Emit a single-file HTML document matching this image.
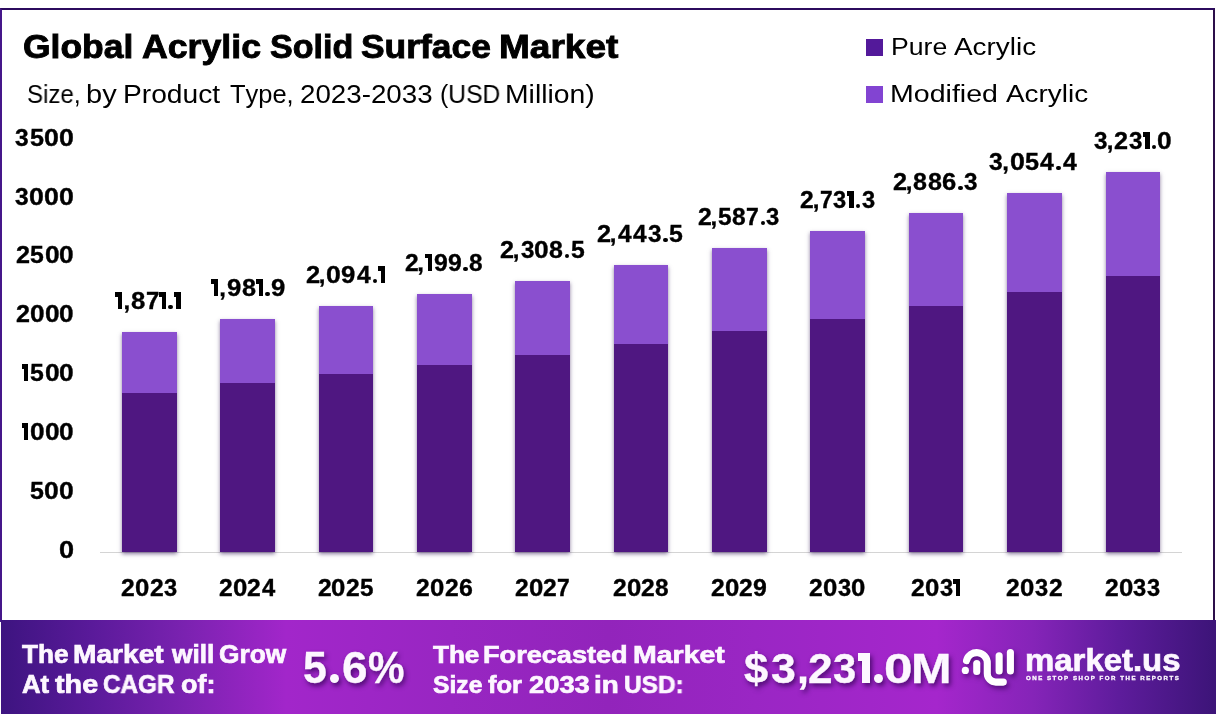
<!DOCTYPE html>
<html><head><meta charset="utf-8">
<style>
html,body{margin:0;padding:0;}
body{width:1216px;height:725px;position:relative;overflow:hidden;background:#fff;font-family:"Liberation Sans",sans-serif;}
.t{position:absolute;white-space:nowrap;line-height:1;transform-origin:0 0;will-change:transform;font-kerning:none;font-variant-ligatures:none;}
.sq{position:absolute;width:17px;height:17px;}
.bar{position:absolute;width:54.2px;box-shadow:0 2px 4px rgba(45,20,80,0.55);}
.mod{position:absolute;left:0;top:0;width:100%;background:#8a4fcf;}
.pure{position:absolute;left:0;width:100%;background:#4f1781;}
.frame{position:absolute;left:0;top:8px;width:1215px;height:614px;box-sizing:border-box;border:2px solid #2c0b5e;border-left-color:#45178a;border-right-color:#2c0e4a;border-bottom:none;}
.axis{position:absolute;left:100px;top:552px;width:1082px;height:1px;background:#d4d4d4;}
.banner{position:absolute;left:1px;top:620px;width:1215px;height:94px;background:linear-gradient(90deg,#3d1480 0%,#5a1a9a 7.5%,#7a22b0 15%,#a226ca 23.5%,#9826c2 37%,#9224bb 50%,#9a26c4 62%,#a526cc 77%,#8524b8 85%,#5e1c9c 92%,#3c1478 100%);}
.b{-webkit-text-stroke:0.35px currentColor;}
.sh{text-shadow:2px 3px 5px rgba(45,0,80,0.75);}
</style></head><body>
<div class="frame"></div>
<div class="axis"></div>
<div class="bar" style="left:122.00px;width:54.80px;top:331.90px;height:220.40px"><div class="mod" style="height:61.10px"></div><div class="pure" style="top:61.10px;bottom:0"></div></div>
<div class="bar" style="left:219.85px;width:55.25px;top:319.20px;height:233.10px"><div class="mod" style="height:63.40px"></div><div class="pure" style="top:63.40px;bottom:0"></div></div>
<div class="bar" style="left:319.10px;width:53.80px;top:305.80px;height:246.50px"><div class="mod" style="height:68.20px"></div><div class="pure" style="top:68.20px;bottom:0"></div></div>
<div class="bar" style="left:416.90px;width:55.30px;top:294.10px;height:258.20px"><div class="mod" style="height:70.70px"></div><div class="pure" style="top:70.70px;bottom:0"></div></div>
<div class="bar" style="left:515.10px;width:54.90px;top:281.00px;height:271.30px"><div class="mod" style="height:73.80px"></div><div class="pure" style="top:73.80px;bottom:0"></div></div>
<div class="bar" style="left:613.80px;width:54.50px;top:265.10px;height:287.20px"><div class="mod" style="height:78.70px"></div><div class="pure" style="top:78.70px;bottom:0"></div></div>
<div class="bar" style="left:711.90px;width:54.90px;top:248.00px;height:304.30px"><div class="mod" style="height:82.90px"></div><div class="pure" style="top:82.90px;bottom:0"></div></div>
<div class="bar" style="left:809.70px;width:55.30px;top:230.90px;height:321.40px"><div class="mod" style="height:88.00px"></div><div class="pure" style="top:88.00px;bottom:0"></div></div>
<div class="bar" style="left:909.10px;width:53.80px;top:212.90px;height:339.40px"><div class="mod" style="height:92.80px"></div><div class="pure" style="top:92.80px;bottom:0"></div></div>
<div class="bar" style="left:1007.00px;width:54.90px;top:193.10px;height:359.20px"><div class="mod" style="height:98.60px"></div><div class="pure" style="top:98.60px;bottom:0"></div></div>
<div class="bar" style="left:1106.00px;width:53.90px;top:172.10px;height:380.20px"><div class="mod" style="height:103.70px"></div><div class="pure" style="top:103.70px;bottom:0"></div></div>
<div class="banner"></div>
<svg style="position:absolute;left:955px;top:640px;filter:drop-shadow(2px 3px 2.5px rgba(45,0,80,0.6))" width="65" height="50" viewBox="0 0 65 50">
<g fill="none" stroke="#fff" stroke-linecap="round" stroke-width="7.1">
<path d="M11.51 20.6 A10.55 10.55 0 0 1 32.3 23.15 L32.3 33.6 A8.5 8.5 0 0 0 40.8 42.1 L48.3 42.1"/>
<path d="M21.75 23.45 L21.75 31.4"/>
<path d="M44.15 15.85 L44.15 31.05"/>
<path d="M55.4 12.6 L55.4 31"/>
</g>
<circle cx="10.35" cy="30.4" r="3.6" fill="#fff"/>
</svg>
<div id="title0" class="t  b" style="left:22.75px;top:30.11px;font-size:33.00px;font-weight:700;color:#000;transform:scaleX(1.0739);-webkit-text-stroke:0.9px #000;">Global</div>
<div id="title1" class="t  b" style="left:142.11px;top:30.11px;font-size:33.00px;font-weight:700;color:#000;transform:scaleX(1.0814);-webkit-text-stroke:0.9px #000;">Acrylic</div>
<div id="title2" class="t  b" style="left:270.02px;top:30.11px;font-size:33.00px;font-weight:700;color:#000;transform:scaleX(1.0318);-webkit-text-stroke:0.9px #000;">Solid</div>
<div id="title3" class="t  b" style="left:360.88px;top:30.11px;font-size:33.00px;font-weight:700;color:#000;transform:scaleX(1.0724);-webkit-text-stroke:0.9px #000;">Surface</div>
<div id="title4" class="t  b" style="left:498.52px;top:30.11px;font-size:33.00px;font-weight:700;color:#000;transform:scaleX(1.1217);-webkit-text-stroke:0.9px #000;">Market</div>
<div id="sub0" class="t " style="left:27.11px;top:81.61px;font-size:25.00px;font-weight:400;color:#000;transform:scaleX(0.9617);">Size,</div>
<div id="sub1" class="t " style="left:86.43px;top:81.61px;font-size:25.00px;font-weight:400;color:#000;transform:scaleX(1.1599);">by</div>
<div id="sub2" class="t " style="left:122.99px;top:81.61px;font-size:25.00px;font-weight:400;color:#000;transform:scaleX(1.1272);">Product</div>
<div id="sub3" class="t " style="left:230.03px;top:81.61px;font-size:25.00px;font-weight:400;color:#000;transform:scaleX(1.0181);">Type,</div>
<div id="sub4" class="t " style="left:299.91px;top:81.61px;font-size:25.00px;font-weight:400;color:#000;transform:scaleX(1.1088);">2023-2033</div>
<div id="sub5" class="t " style="left:439.57px;top:81.61px;font-size:25.00px;font-weight:400;color:#000;transform:scaleX(0.9869);">(USD</div>
<div id="sub6" class="t " style="left:505.38px;top:81.61px;font-size:25.00px;font-weight:400;color:#000;transform:scaleX(1.1327);">Million)</div>
<div class="sq" style="left:866px;top:39px;background:#53199a"></div>
<div class="sq" style="left:866px;top:86px;background:#8244d2"></div>
<div id="leg1_0" class="t " style="left:890.51px;top:34.76px;font-size:24.60px;font-weight:400;color:#000;transform:scaleX(1.0829);">Pure</div>
<div id="leg1_1" class="t " style="left:954.15px;top:34.76px;font-size:24.60px;font-weight:400;color:#000;transform:scaleX(1.1334);">Acrylic</div>
<div id="leg2_0" class="t " style="left:890.36px;top:81.76px;font-size:24.60px;font-weight:400;color:#000;transform:scaleX(1.1613);">Modified</div>
<div id="leg2_1" class="t " style="left:1005.95px;top:81.76px;font-size:24.60px;font-weight:400;color:#000;transform:scaleX(1.1334);">Acrylic</div>
<div id="y3500" class="t b " style="left:0;top:125.60px;font-size:24.00px;font-weight:700;color:#000;width:1px;height:24.00px;"><span style="position:absolute;left:15.44px;top:0;transform:scaleX(1.0239);transform-origin:0 0">3</span><span style="position:absolute;left:29.68px;top:0;transform:scaleX(1.0485);transform-origin:0 0">5</span><span style="position:absolute;left:44.16px;top:0;transform:scaleX(1.1147);transform-origin:0 0">0</span><span style="position:absolute;left:59.12px;top:0;transform:scaleX(1.1147);transform-origin:0 0">0</span></div>
<div id="y3000" class="t b " style="left:0;top:184.51px;font-size:24.00px;font-weight:700;color:#000;width:1px;height:24.00px;"><span style="position:absolute;left:15.24px;top:0;transform:scaleX(1.0238);transform-origin:0 0">3</span><span style="position:absolute;left:29.20px;top:0;transform:scaleX(1.1147);transform-origin:0 0">0</span><span style="position:absolute;left:44.16px;top:0;transform:scaleX(1.1147);transform-origin:0 0">0</span><span style="position:absolute;left:59.12px;top:0;transform:scaleX(1.1147);transform-origin:0 0">0</span></div>
<div id="y2500" class="t b " style="left:0;top:243.40px;font-size:24.00px;font-weight:700;color:#000;width:1px;height:24.00px;"><span style="position:absolute;left:15.93px;top:0;transform:scaleX(1.0491);transform-origin:0 0">2</span><span style="position:absolute;left:30.36px;top:0;transform:scaleX(1.0319);transform-origin:0 0">5</span><span style="position:absolute;left:44.61px;top:0;transform:scaleX(1.0971);transform-origin:0 0">0</span><span style="position:absolute;left:59.34px;top:0;transform:scaleX(1.0971);transform-origin:0 0">0</span></div>
<div id="y2000" class="t b " style="left:0;top:302.31px;font-size:24.00px;font-weight:700;color:#000;width:1px;height:24.00px;"><span style="position:absolute;left:15.93px;top:0;transform:scaleX(1.0453);transform-origin:0 0">2</span><span style="position:absolute;left:30.04px;top:0;transform:scaleX(1.0932);transform-origin:0 0">0</span><span style="position:absolute;left:44.71px;top:0;transform:scaleX(1.0932);transform-origin:0 0">0</span><span style="position:absolute;left:59.38px;top:0;transform:scaleX(1.0932);transform-origin:0 0">0</span></div>
<div id="y1500" class="t b " style="left:0;top:361.20px;font-size:24.00px;font-weight:700;color:#000;width:1px;height:24.00px;"><span style="position:absolute;left:21.55px;top:3.33px;width:6.62px;height:16.66px;"><i style="position:absolute;left:0;top:0;width:2.88px;height:4.18px;background:#000"></i><i style="position:absolute;right:0;top:0;width:4.24px;height:100%;background:#000"></i></span><span style="position:absolute;left:30.27px;top:0;transform:scaleX(1.0341);transform-origin:0 0">5</span><span style="position:absolute;left:44.55px;top:0;transform:scaleX(1.0994);transform-origin:0 0">0</span><span style="position:absolute;left:59.31px;top:0;transform:scaleX(1.0994);transform-origin:0 0">0</span></div>
<div id="y1000" class="t b " style="left:0;top:420.10px;font-size:24.00px;font-weight:700;color:#000;width:1px;height:24.00px;"><span style="position:absolute;left:21.55px;top:3.34px;width:6.60px;height:16.66px;"><i style="position:absolute;left:0;top:0;width:2.88px;height:4.18px;background:#000"></i><i style="position:absolute;right:0;top:0;width:4.22px;height:100%;background:#000"></i></span><span style="position:absolute;left:29.96px;top:0;transform:scaleX(1.0951);transform-origin:0 0">0</span><span style="position:absolute;left:44.66px;top:0;transform:scaleX(1.0951);transform-origin:0 0">0</span><span style="position:absolute;left:59.36px;top:0;transform:scaleX(1.0951);transform-origin:0 0">0</span></div>
<div id="y500" class="t b " style="left:0;top:479.01px;font-size:24.00px;font-weight:700;color:#000;width:1px;height:24.00px;"><span style="position:absolute;left:30.03px;top:0;transform:scaleX(1.0399);transform-origin:0 0">5</span><span style="position:absolute;left:44.39px;top:0;transform:scaleX(1.1056);transform-origin:0 0">0</span><span style="position:absolute;left:59.23px;top:0;transform:scaleX(1.1056);transform-origin:0 0">0</span></div>
<div id="y0" class="t b " style="left:0;top:537.90px;font-size:24.00px;font-weight:700;color:#000;width:1px;height:24.00px;"><span style="position:absolute;left:58.93px;top:0;transform:scaleX(1.1302);transform-origin:0 0">0</span></div>
<div id="v0" class="t b " style="left:0;top:288.61px;font-size:24.00px;font-weight:700;color:#000;width:1px;height:24.00px;"><span style="position:absolute;left:115.45px;top:3.33px;width:6.81px;height:16.66px;"><i style="position:absolute;left:0;top:0;width:2.95px;height:4.18px;background:#000"></i><i style="position:absolute;right:0;top:0;width:4.36px;height:100%;background:#000"></i></span><span style="position:absolute;left:123.51px;top:0;transform:scaleX(1.0000);transform-origin:0 0">,</span><span style="position:absolute;left:131.30px;top:0;transform:scaleX(1.0720);transform-origin:0 0">8</span><span style="position:absolute;left:146.06px;top:0;transform:scaleX(0.9994);transform-origin:0 0">7</span><span style="position:absolute;left:159.23px;top:3.33px;width:6.81px;height:16.66px;"><i style="position:absolute;left:0;top:0;width:2.95px;height:4.18px;background:#000"></i><i style="position:absolute;right:0;top:0;width:4.36px;height:100%;background:#000"></i></span><span style="position:absolute;left:168.32px;top:15.50px;width:4.64px;height:4.64px;border-radius:50%;background:#000;"></span><span style="position:absolute;left:173.94px;top:3.33px;width:6.81px;height:16.66px;"><i style="position:absolute;left:0;top:0;width:2.95px;height:4.18px;background:#000"></i><i style="position:absolute;right:0;top:0;width:4.36px;height:100%;background:#000"></i></span></div>
<div id="x0" class="t b " style="left:0;top:575.70px;font-size:24.00px;font-weight:700;color:#000;width:1px;height:24.00px;"><span style="position:absolute;left:121.15px;top:0;transform:scaleX(1.0263);transform-origin:0 0">2</span><span style="position:absolute;left:135.00px;top:0;transform:scaleX(1.0733);transform-origin:0 0">0</span><span style="position:absolute;left:149.57px;top:0;transform:scaleX(1.0263);transform-origin:0 0">2</span><span style="position:absolute;left:163.90px;top:0;transform:scaleX(0.9858);transform-origin:0 0">3</span></div>
<div id="v1" class="t b " style="left:0;top:275.90px;font-size:24.00px;font-weight:700;color:#000;width:1px;height:24.00px;"><span style="position:absolute;left:211.45px;top:3.33px;width:6.68px;height:16.66px;"><i style="position:absolute;left:0;top:0;width:2.90px;height:4.18px;background:#000"></i><i style="position:absolute;right:0;top:0;width:4.27px;height:100%;background:#000"></i></span><span style="position:absolute;left:219.29px;top:0;transform:scaleX(1.0000);transform-origin:0 0">,</span><span style="position:absolute;left:226.91px;top:0;transform:scaleX(1.0713);transform-origin:0 0">9</span><span style="position:absolute;left:241.68px;top:0;transform:scaleX(1.0512);transform-origin:0 0">8</span><span style="position:absolute;left:256.41px;top:3.33px;width:6.68px;height:16.66px;"><i style="position:absolute;left:0;top:0;width:2.90px;height:4.18px;background:#000"></i><i style="position:absolute;right:0;top:0;width:4.27px;height:100%;background:#000"></i></span><span style="position:absolute;left:265.32px;top:15.59px;width:4.55px;height:4.55px;border-radius:50%;background:#000;"></span><span style="position:absolute;left:271.05px;top:0;transform:scaleX(1.0713);transform-origin:0 0">9</span></div>
<div id="x1" class="t b " style="left:0;top:575.70px;font-size:24.00px;font-weight:700;color:#000;width:1px;height:24.00px;"><span style="position:absolute;left:218.73px;top:0;transform:scaleX(1.0263);transform-origin:0 0">2</span><span style="position:absolute;left:232.58px;top:0;transform:scaleX(1.0733);transform-origin:0 0">0</span><span style="position:absolute;left:247.15px;top:0;transform:scaleX(1.0263);transform-origin:0 0">2</span><span style="position:absolute;left:261.66px;top:0;transform:scaleX(0.9911);transform-origin:0 0">4</span></div>
<div id="v2" class="t b " style="left:0;top:262.50px;font-size:24.00px;font-weight:700;color:#000;width:1px;height:24.00px;"><span style="position:absolute;left:305.72px;top:0;transform:scaleX(1.0615);transform-origin:0 0">2</span><span style="position:absolute;left:318.86px;top:0;transform:scaleX(1.0000);transform-origin:0 0">,</span><span style="position:absolute;left:326.33px;top:0;transform:scaleX(1.1101);transform-origin:0 0">0</span><span style="position:absolute;left:341.39px;top:0;transform:scaleX(1.0725);transform-origin:0 0">9</span><span style="position:absolute;left:356.60px;top:0;transform:scaleX(1.0250);transform-origin:0 0">4</span><span style="position:absolute;left:372.64px;top:15.59px;width:4.56px;height:4.56px;border-radius:50%;background:#000;"></span><span style="position:absolute;left:378.16px;top:3.34px;width:6.69px;height:16.66px;"><i style="position:absolute;left:0;top:0;width:2.91px;height:4.18px;background:#000"></i><i style="position:absolute;right:0;top:0;width:4.28px;height:100%;background:#000"></i></span></div>
<div id="x2" class="t b " style="left:0;top:575.70px;font-size:24.00px;font-weight:700;color:#000;width:1px;height:24.00px;"><span style="position:absolute;left:317.60px;top:0;transform:scaleX(1.0263);transform-origin:0 0">2</span><span style="position:absolute;left:331.45px;top:0;transform:scaleX(1.0733);transform-origin:0 0">0</span><span style="position:absolute;left:346.02px;top:0;transform:scaleX(1.0263);transform-origin:0 0">2</span><span style="position:absolute;left:360.15px;top:0;transform:scaleX(1.0095);transform-origin:0 0">5</span></div>
<div id="v3" class="t b " style="left:0;top:250.81px;font-size:24.00px;font-weight:700;color:#000;width:1px;height:24.00px;"><span style="position:absolute;left:404.75px;top:0;transform:scaleX(1.0230);transform-origin:0 0">2</span><span style="position:absolute;left:417.30px;top:0;transform:scaleX(1.0000);transform-origin:0 0">,</span><span style="position:absolute;left:425.48px;top:3.32px;width:6.45px;height:16.66px;"><i style="position:absolute;left:0;top:0;width:2.82px;height:4.18px;background:#000"></i><i style="position:absolute;right:0;top:0;width:4.13px;height:100%;background:#000"></i></span><span style="position:absolute;left:433.85px;top:0;transform:scaleX(1.0336);transform-origin:0 0">9</span><span style="position:absolute;left:448.02px;top:0;transform:scaleX(1.0336);transform-origin:0 0">9</span><span style="position:absolute;left:463.28px;top:15.73px;width:4.40px;height:4.40px;border-radius:50%;background:#000;"></span><span style="position:absolute;left:468.91px;top:0;transform:scaleX(1.0142);transform-origin:0 0">8</span></div>
<div id="x3" class="t b " style="left:0;top:575.70px;font-size:24.00px;font-weight:700;color:#000;width:1px;height:24.00px;"><span style="position:absolute;left:416.15px;top:0;transform:scaleX(1.0263);transform-origin:0 0">2</span><span style="position:absolute;left:430.00px;top:0;transform:scaleX(1.0733);transform-origin:0 0">0</span><span style="position:absolute;left:444.57px;top:0;transform:scaleX(1.0263);transform-origin:0 0">2</span><span style="position:absolute;left:458.53px;top:0;transform:scaleX(1.0391);transform-origin:0 0">6</span></div>
<div id="v4" class="t b " style="left:0;top:237.72px;font-size:24.00px;font-weight:700;color:#000;width:1px;height:24.00px;"><span style="position:absolute;left:499.83px;top:0;transform:scaleX(1.0478);transform-origin:0 0">2</span><span style="position:absolute;left:512.76px;top:0;transform:scaleX(1.0000);transform-origin:0 0">,</span><span style="position:absolute;left:520.66px;top:0;transform:scaleX(1.0065);transform-origin:0 0">3</span><span style="position:absolute;left:534.38px;top:0;transform:scaleX(1.0958);transform-origin:0 0">0</span><span style="position:absolute;left:549.34px;top:0;transform:scaleX(1.0388);transform-origin:0 0">8</span><span style="position:absolute;left:564.89px;top:15.63px;width:4.50px;height:4.50px;border-radius:50%;background:#000;"></span><span style="position:absolute;left:570.68px;top:0;transform:scaleX(1.0306);transform-origin:0 0">5</span></div>
<div id="x4" class="t b " style="left:0;top:575.70px;font-size:24.00px;font-weight:700;color:#000;width:1px;height:24.00px;"><span style="position:absolute;left:514.84px;top:0;transform:scaleX(1.0263);transform-origin:0 0">2</span><span style="position:absolute;left:528.69px;top:0;transform:scaleX(1.0733);transform-origin:0 0">0</span><span style="position:absolute;left:543.26px;top:0;transform:scaleX(1.0263);transform-origin:0 0">2</span><span style="position:absolute;left:557.15px;top:0;transform:scaleX(0.9486);transform-origin:0 0">7</span></div>
<div id="v5" class="t b " style="left:0;top:221.81px;font-size:24.00px;font-weight:700;color:#000;width:1px;height:24.00px;"><span style="position:absolute;left:596.82px;top:0;transform:scaleX(1.0534);transform-origin:0 0">2</span><span style="position:absolute;left:609.85px;top:0;transform:scaleX(1.0000);transform-origin:0 0">,</span><span style="position:absolute;left:617.95px;top:0;transform:scaleX(1.0172);transform-origin:0 0">4</span><span style="position:absolute;left:633.24px;top:0;transform:scaleX(1.0172);transform-origin:0 0">4</span><span style="position:absolute;left:648.34px;top:0;transform:scaleX(1.0119);transform-origin:0 0">3</span><span style="position:absolute;left:663.44px;top:15.61px;width:4.52px;height:4.52px;border-radius:50%;background:#000;"></span><span style="position:absolute;left:669.26px;top:0;transform:scaleX(1.0361);transform-origin:0 0">5</span></div>
<div id="x5" class="t b " style="left:0;top:575.70px;font-size:24.00px;font-weight:700;color:#000;width:1px;height:24.00px;"><span style="position:absolute;left:612.65px;top:0;transform:scaleX(1.0263);transform-origin:0 0">2</span><span style="position:absolute;left:626.50px;top:0;transform:scaleX(1.0733);transform-origin:0 0">0</span><span style="position:absolute;left:641.07px;top:0;transform:scaleX(1.0263);transform-origin:0 0">2</span><span style="position:absolute;left:655.17px;top:0;transform:scaleX(1.0175);transform-origin:0 0">8</span></div>
<div id="v6" class="t b " style="left:0;top:204.72px;font-size:24.00px;font-weight:700;color:#000;width:1px;height:24.00px;"><span style="position:absolute;left:697.69px;top:0;transform:scaleX(1.0324);transform-origin:0 0">2</span><span style="position:absolute;left:710.39px;top:0;transform:scaleX(1.0000);transform-origin:0 0">,</span><span style="position:absolute;left:718.01px;top:0;transform:scaleX(1.0155);transform-origin:0 0">5</span><span style="position:absolute;left:732.28px;top:0;transform:scaleX(1.0235);transform-origin:0 0">8</span><span style="position:absolute;left:746.37px;top:0;transform:scaleX(0.9542);transform-origin:0 0">7</span><span style="position:absolute;left:760.51px;top:15.69px;width:4.44px;height:4.44px;border-radius:50%;background:#000;"></span><span style="position:absolute;left:766.42px;top:0;transform:scaleX(0.9917);transform-origin:0 0">3</span></div>
<div id="x6" class="t b " style="left:0;top:575.70px;font-size:24.00px;font-weight:700;color:#000;width:1px;height:24.00px;"><span style="position:absolute;left:710.95px;top:0;transform:scaleX(1.0263);transform-origin:0 0">2</span><span style="position:absolute;left:724.80px;top:0;transform:scaleX(1.0733);transform-origin:0 0">0</span><span style="position:absolute;left:739.37px;top:0;transform:scaleX(1.0263);transform-origin:0 0">2</span><span style="position:absolute;left:753.38px;top:0;transform:scaleX(1.0370);transform-origin:0 0">9</span></div>
<div id="v7" class="t b " style="left:0;top:187.60px;font-size:24.00px;font-weight:700;color:#000;width:1px;height:24.00px;"><span style="position:absolute;left:800.15px;top:0;transform:scaleX(1.0261);transform-origin:0 0">2</span><span style="position:absolute;left:812.74px;top:0;transform:scaleX(1.0000);transform-origin:0 0">,</span><span style="position:absolute;left:820.11px;top:0;transform:scaleX(0.9484);transform-origin:0 0">7</span><span style="position:absolute;left:833.38px;top:0;transform:scaleX(0.9856);transform-origin:0 0">3</span><span style="position:absolute;left:847.10px;top:3.34px;width:6.47px;height:16.66px;"><i style="position:absolute;left:0;top:0;width:2.83px;height:4.18px;background:#000"></i><i style="position:absolute;right:0;top:0;width:4.14px;height:100%;background:#000"></i></span><span style="position:absolute;left:855.72px;top:15.74px;width:4.42px;height:4.42px;border-radius:50%;background:#000;"></span><span style="position:absolute;left:861.60px;top:0;transform:scaleX(0.9856);transform-origin:0 0">3</span></div>
<div id="x7" class="t b " style="left:0;top:575.70px;font-size:24.00px;font-weight:700;color:#000;width:1px;height:24.00px;"><span style="position:absolute;left:808.90px;top:0;transform:scaleX(1.0263);transform-origin:0 0">2</span><span style="position:absolute;left:822.75px;top:0;transform:scaleX(1.0733);transform-origin:0 0">0</span><span style="position:absolute;left:837.63px;top:0;transform:scaleX(0.9858);transform-origin:0 0">3</span><span style="position:absolute;left:851.08px;top:0;transform:scaleX(1.0733);transform-origin:0 0">0</span></div>
<div id="v8" class="t b " style="left:0;top:169.60px;font-size:24.00px;font-weight:700;color:#000;width:1px;height:24.00px;"><span style="position:absolute;left:892.72px;top:0;transform:scaleX(1.0523);transform-origin:0 0">2</span><span style="position:absolute;left:905.73px;top:0;transform:scaleX(1.0000);transform-origin:0 0">,</span><span style="position:absolute;left:913.40px;top:0;transform:scaleX(1.0432);transform-origin:0 0">8</span><span style="position:absolute;left:927.97px;top:0;transform:scaleX(1.0432);transform-origin:0 0">8</span><span style="position:absolute;left:942.40px;top:0;transform:scaleX(1.0653);transform-origin:0 0">6</span><span style="position:absolute;left:958.16px;top:15.62px;width:4.52px;height:4.52px;border-radius:50%;background:#000;"></span><span style="position:absolute;left:964.19px;top:0;transform:scaleX(1.0108);transform-origin:0 0">3</span></div>
<div id="x8" class="t b " style="left:0;top:575.70px;font-size:24.00px;font-weight:700;color:#000;width:1px;height:24.00px;"><span style="position:absolute;left:910.88px;top:0;transform:scaleX(1.0263);transform-origin:0 0">2</span><span style="position:absolute;left:924.73px;top:0;transform:scaleX(1.0733);transform-origin:0 0">0</span><span style="position:absolute;left:939.62px;top:0;transform:scaleX(0.9858);transform-origin:0 0">3</span><span style="position:absolute;left:953.34px;top:3.33px;width:6.47px;height:16.66px;"><i style="position:absolute;left:0;top:0;width:2.83px;height:4.18px;background:#000"></i><i style="position:absolute;right:0;top:0;width:4.14px;height:100%;background:#000"></i></span></div>
<div id="v9" class="t b " style="left:0;top:149.81px;font-size:24.00px;font-weight:700;color:#000;width:1px;height:24.00px;"><span style="position:absolute;left:989.33px;top:0;transform:scaleX(1.0261);transform-origin:0 0">3</span><span style="position:absolute;left:1002.16px;top:0;transform:scaleX(1.0000);transform-origin:0 0">,</span><span style="position:absolute;left:1009.65px;top:0;transform:scaleX(1.1171);transform-origin:0 0">0</span><span style="position:absolute;left:1024.93px;top:0;transform:scaleX(1.0507);transform-origin:0 0">5</span><span style="position:absolute;left:1040.12px;top:0;transform:scaleX(1.0316);transform-origin:0 0">4</span><span style="position:absolute;left:1056.26px;top:15.56px;width:4.58px;height:4.58px;border-radius:50%;background:#000;"></span><span style="position:absolute;left:1062.56px;top:0;transform:scaleX(1.0316);transform-origin:0 0">4</span></div>
<div id="x9" class="t b " style="left:0;top:575.70px;font-size:24.00px;font-weight:700;color:#000;width:1px;height:24.00px;"><span style="position:absolute;left:1006.20px;top:0;transform:scaleX(1.0263);transform-origin:0 0">2</span><span style="position:absolute;left:1020.05px;top:0;transform:scaleX(1.0733);transform-origin:0 0">0</span><span style="position:absolute;left:1034.93px;top:0;transform:scaleX(0.9858);transform-origin:0 0">3</span><span style="position:absolute;left:1048.54px;top:0;transform:scaleX(1.0263);transform-origin:0 0">2</span></div>
<div id="v10" class="t b " style="left:0;top:128.80px;font-size:24.00px;font-weight:700;color:#000;width:1px;height:24.00px;"><span style="position:absolute;left:1094.24px;top:0;transform:scaleX(1.0085);transform-origin:0 0">3</span><span style="position:absolute;left:1106.79px;top:0;transform:scaleX(1.0000);transform-origin:0 0">,</span><span style="position:absolute;left:1114.38px;top:0;transform:scaleX(1.0499);transform-origin:0 0">2</span><span style="position:absolute;left:1129.04px;top:0;transform:scaleX(1.0085);transform-origin:0 0">3</span><span style="position:absolute;left:1143.08px;top:3.33px;width:6.62px;height:16.66px;"><i style="position:absolute;left:0;top:0;width:2.88px;height:4.18px;background:#000"></i><i style="position:absolute;right:0;top:0;width:4.23px;height:100%;background:#000"></i></span><span style="position:absolute;left:1151.90px;top:15.63px;width:4.51px;height:4.51px;border-radius:50%;background:#000;"></span><span style="position:absolute;left:1157.42px;top:0;transform:scaleX(1.0980);transform-origin:0 0">0</span></div>
<div id="x10" class="t b " style="left:0;top:575.70px;font-size:24.00px;font-weight:700;color:#000;width:1px;height:24.00px;"><span style="position:absolute;left:1104.75px;top:0;transform:scaleX(1.0263);transform-origin:0 0">2</span><span style="position:absolute;left:1118.60px;top:0;transform:scaleX(1.0733);transform-origin:0 0">0</span><span style="position:absolute;left:1133.48px;top:0;transform:scaleX(0.9858);transform-origin:0 0">3</span><span style="position:absolute;left:1147.40px;top:0;transform:scaleX(0.9858);transform-origin:0 0">3</span></div>
<div id="b1_0" class="t  b" style="left:21.91px;top:641.71px;font-size:25.00px;font-weight:700;color:#fdf7ff;transform:scaleX(1.0459);-webkit-text-stroke:0.7px currentColor;">The</div>
<div id="b1_1" class="t  b" style="left:72.72px;top:641.71px;font-size:25.00px;font-weight:700;color:#fdf7ff;transform:scaleX(1.1258);-webkit-text-stroke:0.7px currentColor;">Market</div>
<div id="b1_2" class="t  b" style="left:171.58px;top:641.71px;font-size:25.00px;font-weight:700;color:#fdf7ff;transform:scaleX(1.0496);-webkit-text-stroke:0.7px currentColor;">will</div>
<div id="b1_3" class="t  b" style="left:218.72px;top:641.71px;font-size:25.00px;font-weight:700;color:#fdf7ff;transform:scaleX(1.0506);-webkit-text-stroke:0.7px currentColor;">Grow</div>
<div id="b2_0" class="t  b" style="left:21.56px;top:671.91px;font-size:25.00px;font-weight:700;color:#fdf7ff;transform:scaleX(1.0294);-webkit-text-stroke:0.7px currentColor;">At</div>
<div id="b2_1" class="t  b" style="left:55.15px;top:671.91px;font-size:25.00px;font-weight:700;color:#fdf7ff;transform:scaleX(1.1502);-webkit-text-stroke:0.7px currentColor;">the</div>
<div id="b2_2" class="t  b" style="left:102.80px;top:671.91px;font-size:25.00px;font-weight:700;color:#fdf7ff;transform:scaleX(0.9713);-webkit-text-stroke:0.7px currentColor;">CAGR</div>
<div id="b2_3" class="t  b" style="left:180.55px;top:671.91px;font-size:25.00px;font-weight:700;color:#fdf7ff;transform:scaleX(1.0757);-webkit-text-stroke:0.7px currentColor;">of:</div>
<div id="b3" class="t b sh" style="left:0;top:645.50px;font-size:44.60px;font-weight:700;color:#fdf7ff;width:1px;height:44.60px;"><span style="position:absolute;left:303.18px;top:0;transform:scaleX(0.9598);transform-origin:0 0">5</span><span style="position:absolute;left:329.75px;top:28.25px;width:8.90px;height:8.90px;border-radius:50%;background:#fdf7ff;filter:drop-shadow(2px 3px 2.5px rgba(45,0,80,0.75));"></span><span style="position:absolute;left:341.72px;top:0;transform:scaleX(1.0297);transform-origin:0 0">6</span><span style="position:absolute;left:367.78px;top:0;transform:scaleX(0.9205);transform-origin:0 0">%</span></div>
<div id="b4_0" class="t  b" style="left:433.01px;top:642.81px;font-size:24.60px;font-weight:700;color:#fdf7ff;transform:scaleX(1.0606);-webkit-text-stroke:0.7px currentColor;">The</div>
<div id="b4_1" class="t  b" style="left:483.09px;top:642.81px;font-size:24.60px;font-weight:700;color:#fdf7ff;transform:scaleX(1.1025);-webkit-text-stroke:0.7px currentColor;">Forecasted</div>
<div id="b4_2" class="t  b" style="left:632.99px;top:642.81px;font-size:24.60px;font-weight:700;color:#fdf7ff;transform:scaleX(1.1583);-webkit-text-stroke:0.7px currentColor;">Market</div>
<div id="b5_0" class="t  b" style="left:432.59px;top:672.61px;font-size:24.60px;font-weight:700;color:#fdf7ff;transform:scaleX(1.0026);-webkit-text-stroke:0.7px currentColor;">Size</div>
<div id="b5_1" class="t  b" style="left:488.26px;top:672.61px;font-size:24.60px;font-weight:700;color:#fdf7ff;transform:scaleX(1.0375);-webkit-text-stroke:0.7px currentColor;">for</div>
<div id="b5_2" class="t  b" style="left:528.55px;top:672.61px;font-size:24.60px;font-weight:700;color:#fdf7ff;transform:scaleX(1.1117);-webkit-text-stroke:0.7px currentColor;">2033</div>
<div id="b5_3" class="t  b" style="left:594.05px;top:672.61px;font-size:24.60px;font-weight:700;color:#fdf7ff;transform:scaleX(1.1333);-webkit-text-stroke:0.7px currentColor;">in</div>
<div id="b5_4" class="t  b" style="left:623.94px;top:672.61px;font-size:24.60px;font-weight:700;color:#fdf7ff;transform:scaleX(0.9913);-webkit-text-stroke:0.7px currentColor;">USD:</div>
<div id="b6" class="t b sh" style="left:0;top:646.82px;font-size:43.00px;font-weight:700;color:#fdf7ff;width:1px;height:43.00px;"><span style="position:absolute;left:743.53px;top:0;transform:scaleX(1.0115);transform-origin:0 0">$</span><span style="position:absolute;left:771.08px;top:0;transform:scaleX(1.0386);transform-origin:0 0">3</span><span style="position:absolute;left:796.91px;top:0;transform:scaleX(1.0000);transform-origin:0 0">,</span><span style="position:absolute;left:807.67px;top:0;transform:scaleX(1.0289);transform-origin:0 0">2</span><span style="position:absolute;left:832.74px;top:0;transform:scaleX(0.9731);transform-origin:0 0">3</span><span style="position:absolute;left:857.95px;top:6.25px;width:11.60px;height:29.73px;filter:drop-shadow(2px 3px 2.5px rgba(45,0,80,0.75));"><i style="position:absolute;left:0;top:0;width:4.68px;height:7.25px;background:#fdf7ff"></i><i style="position:absolute;right:0;top:0;width:7.42px;height:100%;background:#fdf7ff"></i></span><span style="position:absolute;left:873.85px;top:26.83px;width:9.30px;height:9.30px;border-radius:50%;background:#fdf7ff;filter:drop-shadow(2px 3px 2.5px rgba(45,0,80,0.75));"></span><span style="position:absolute;left:884.17px;top:0;transform:scaleX(1.1931);transform-origin:0 0">0</span><span style="position:absolute;left:910.95px;top:0;transform:scaleX(1.1308);transform-origin:0 0">M</span></div>
<div id="b7" class="t  b" style="left:1024.73px;top:645.00px;font-size:30.50px;font-weight:700;color:#fdf7ff;transform:scaleX(1.0792);-webkit-text-stroke:0.7px currentColor;">market.us</div>
<div id="b8" class="t  b" style="left:1026.35px;top:675.90px;font-size:5.80px;font-weight:700;color:#fdf7ff;transform:scaleX(1.0520);letter-spacing:0.250em;">ONE STOP SHOP FOR THE REPORTS</div>
</body></html>
